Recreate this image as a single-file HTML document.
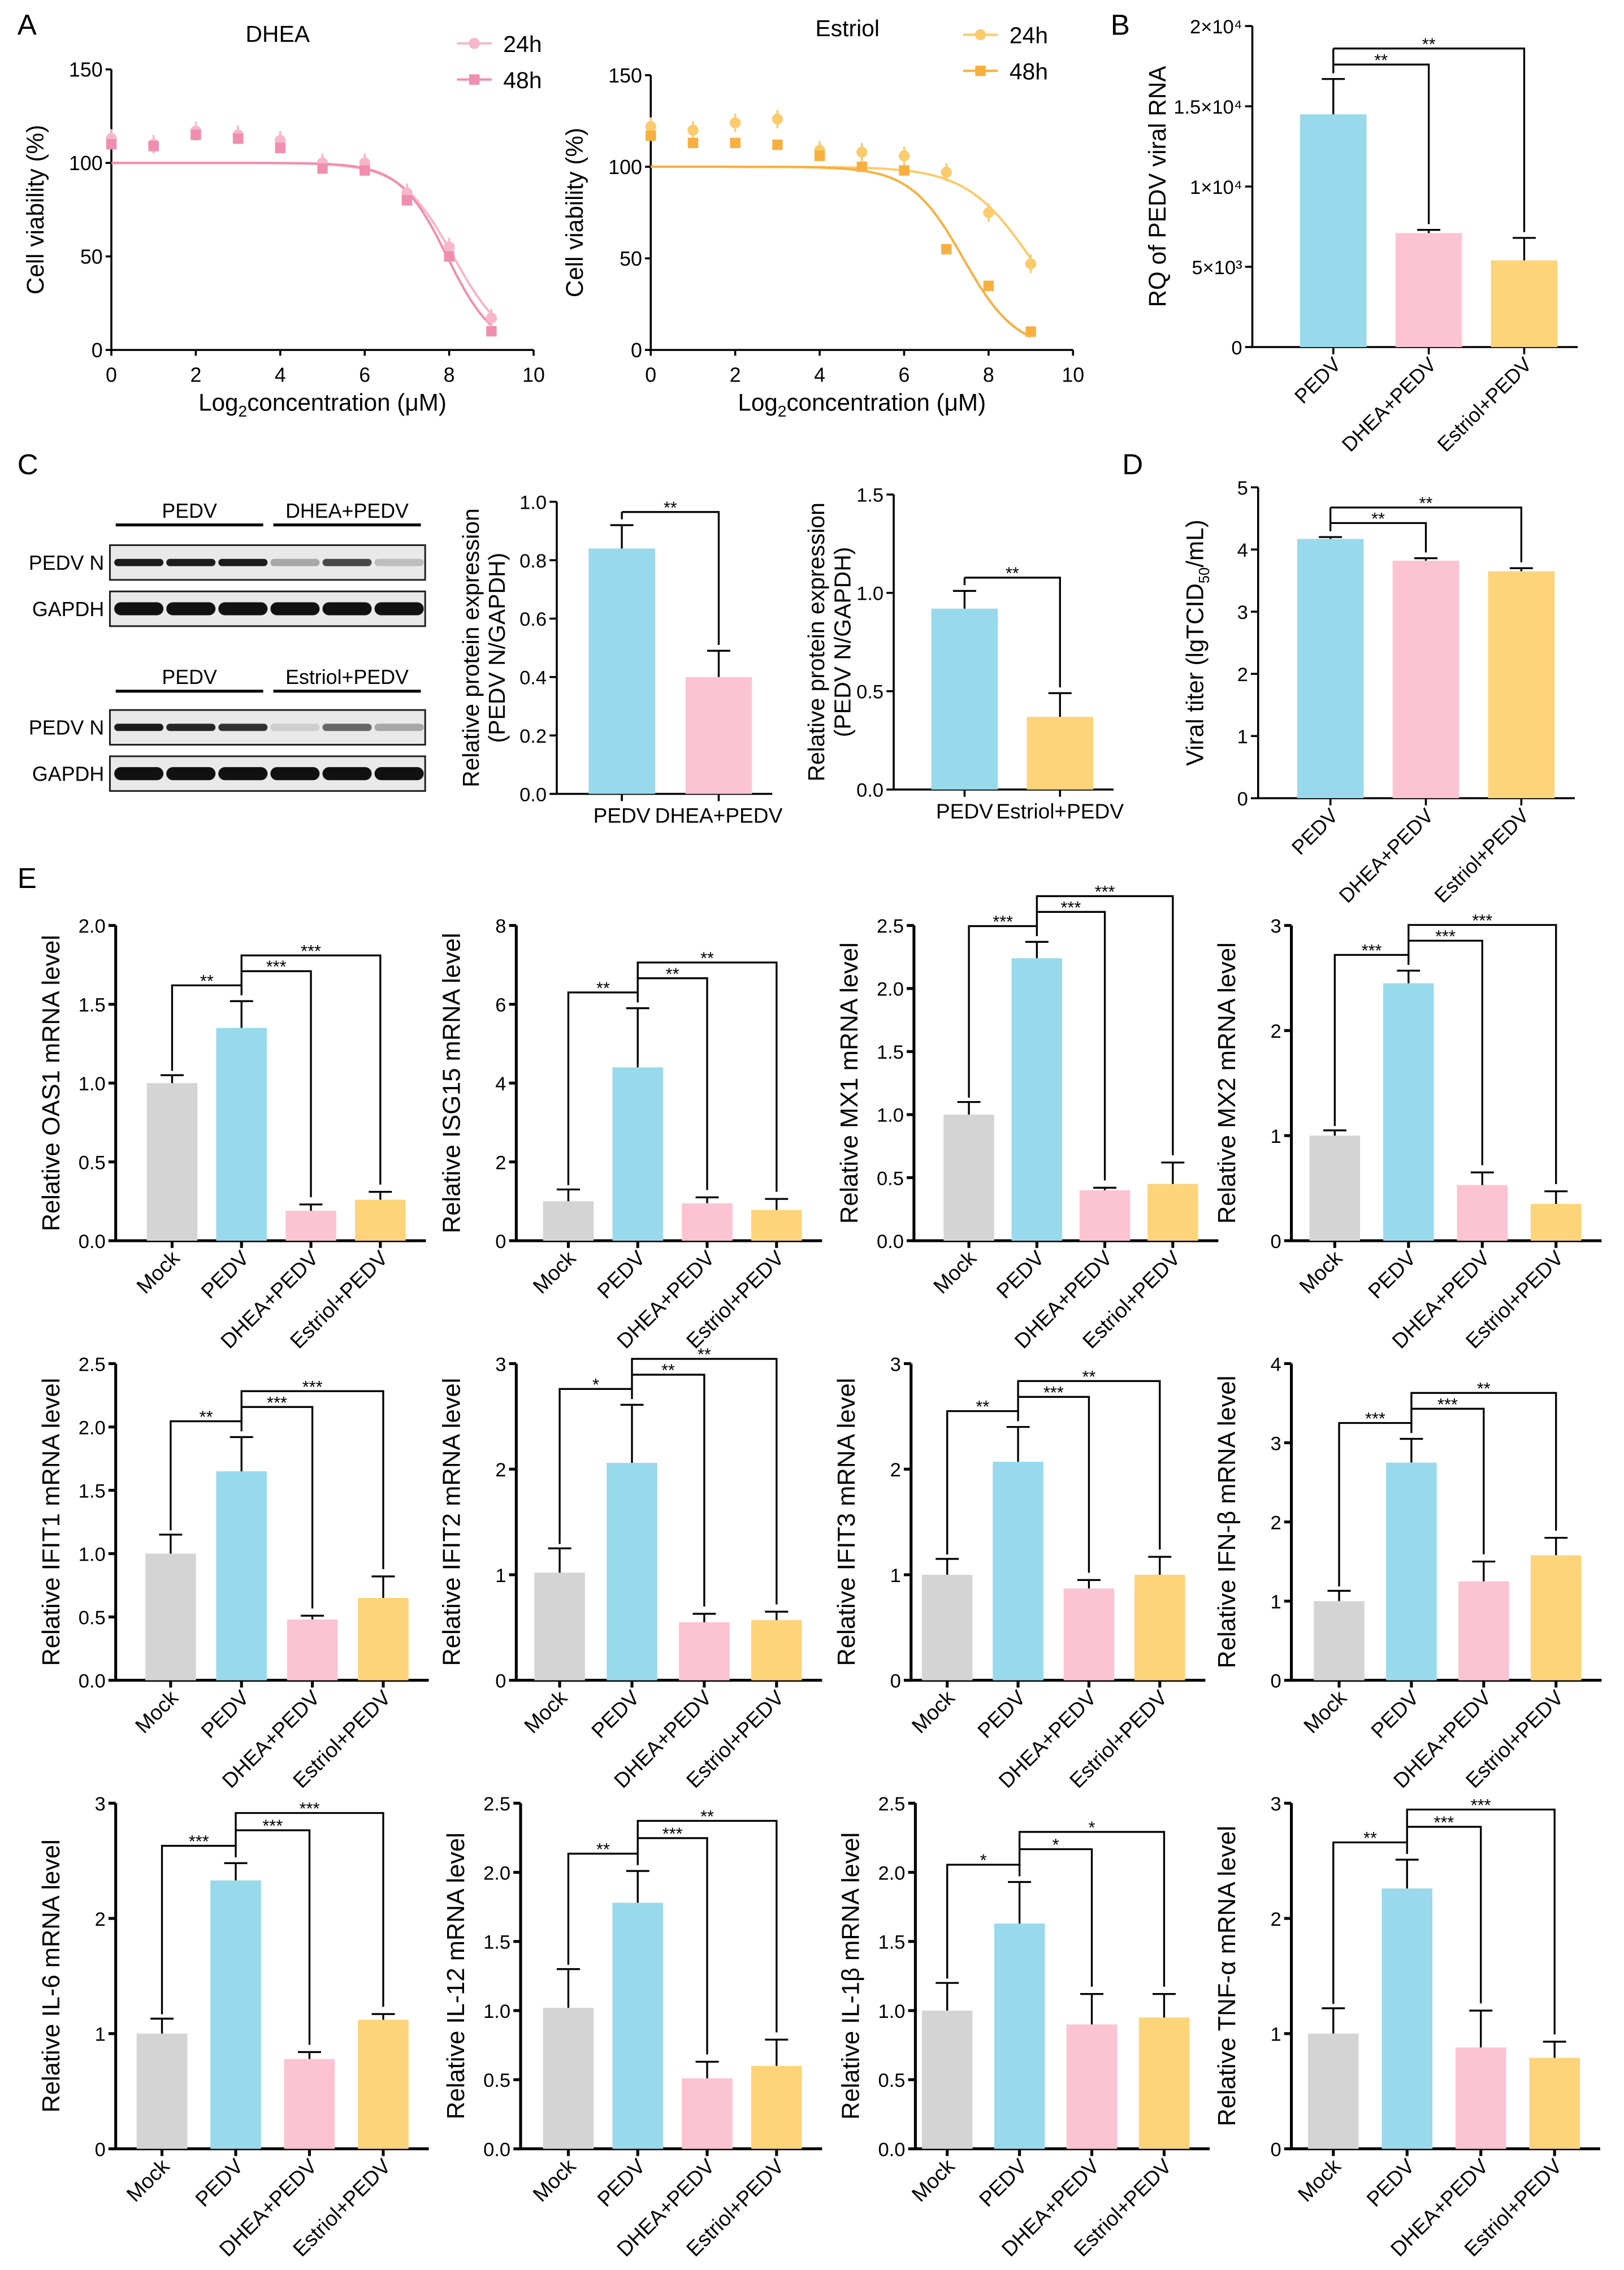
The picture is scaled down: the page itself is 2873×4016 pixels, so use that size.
<!DOCTYPE html>
<html><head><meta charset="utf-8"><style>
html,body{margin:0;padding:0;background:#fff}
svg{display:block;font-family:"Liberation Sans",Arial,sans-serif}
</style></head><body>
<svg id="fig" xmlns="http://www.w3.org/2000/svg" width="2873" height="4016" viewBox="0 0 1123 1569.8"></svg>
<script>
// ---------- DATA ----------
const concX = [0,1,2,3,4,5,6,7,8,9];
const dhea24 = [113,110,117,115,112,100,100,84,55,17];
const dhea48 = [110,109,115,113,108,97,96,80,50,10];
const estriol24 = [122,120,124,126,109,108,106,97,75,47];
const estriol48 = [117,113,113,112,106,100,98,55,35,10];
const fitCenters = [8.1,7.95,9.0,7.4];
const fitSlopes = [1.6,1.8,1.3,1.6];

const bCategories = ["PEDV","DHEA+PEDV","Estriol+PEDV"];
const bValues = [14500,7100,5400];
const bErrors = [2200,200,1400];
const bTickLabels = ["0","5×10³","1×10⁴","1.5×10⁴","2×10⁴"];

const c1Categories = ["PEDV","DHEA+PEDV"];
const c1Values = [0.84,0.40];
const c1Errors = [0.08,0.09];
const c2Categories = ["PEDV","Estriol+PEDV"];
const c2Values = [0.92,0.37];
const c2Errors = [0.09,0.12];

const dValues = [4.17,3.82,3.65];
const dErrors = [0.03,0.04,0.05];

const eCategories = ["Mock","PEDV","DHEA+PEDV","Estriol+PEDV"];
const eGenes = ["OAS1","ISG15","MX1","MX2","IFIT1","IFIT2","IFIT3","IFN-β","IL-6","IL-12","IL-1β","TNF-α"];
const oas1Values=[1.0,1.35,0.19,0.26], oas1Errors=[0.05,0.17,0.04,0.05], oas1Sig=["**","***","***"];
const isg15Values=[1.0,4.4,0.95,0.78], isg15Errors=[0.3,1.5,0.15,0.28], isg15Sig=["**","**","**"];
const mx1Values=[1.0,2.24,0.4,0.45], mx1Errors=[0.1,0.13,0.02,0.17], mx1Sig=["***","***","***"];
const mx2Values=[1.0,2.45,0.53,0.35], mx2Errors=[0.05,0.12,0.12,0.12], mx2Sig=["***","***","***"];
const ifit1Values=[1.0,1.65,0.48,0.65], ifit1Errors=[0.15,0.27,0.03,0.17], ifit1Sig=["**","***","***"];
const ifit2Values=[1.02,2.06,0.55,0.57], ifit2Errors=[0.23,0.55,0.08,0.08], ifit2Sig=["*","**","**"];
const ifit3Values=[1.0,2.07,0.87,1.0], ifit3Errors=[0.15,0.33,0.08,0.17], ifit3Sig=["**","***","**"];
const ifnbValues=[1.0,2.75,1.25,1.58], ifnbErrors=[0.13,0.3,0.25,0.22], ifnbSig=["***","***","**"];
const il6Values=[1.0,2.33,0.78,1.12], il6Errors=[0.13,0.15,0.06,0.05], il6Sig=["***","***","***"];
const il12Values=[1.02,1.78,0.51,0.6], il12Errors=[0.28,0.23,0.12,0.19], il12Sig=["**","***","**"];
const il1bValues=[1.0,1.63,0.9,0.95], il1bErrors=[0.2,0.3,0.22,0.17], il1bSig=["*","*","*"];
const tnfValues=[1.0,2.26,0.88,0.79], tnfErrors=[0.22,0.25,0.32,0.14], tnfSig=["**","***","***"];
const eMax = [2.0,8,2.5,3, 2.5,3,3,4, 3,2.5,2.5,3];
const eStep = [0.5,2,0.5,1, 0.5,1,1,1, 1,0.5,0.5,1];

// ---------- HELPERS ----------
const NS="http://www.w3.org/2000/svg";
const fig=document.getElementById('fig');
function mk(tag,attrs,parent){const el=document.createElementNS(NS,tag);for(const k in attrs)el.setAttribute(k,attrs[k]);(parent||fig).appendChild(el);return el;}
function txt(s,x,y,size,anchor,parent,extra){const t=mk('text',Object.assign({x:x,y:y,'font-size':size,'text-anchor':anchor||'start',fill:'#000'},extra||{}),parent);t.textContent=s;return t;}
const COL={Mock:'#d4d4d4',PEDV:'#99d9ec','DHEA+PEDV':'#fcc3d2','Estriol+PEDV':'#fdd47a'};

// panel letters
[["A",12,24],["B",768,24],["C",12,328],["D",776,328],["E",12,614]].forEach(p=>{
  const t=txt(p[0],p[1],p[2],20,'start');
  
  
});

// ---------- PANEL A ----------
function doseChart(name,axX,y0,yTop,title,tx,ty,s24,s48,c24,c48,fit24,fit48,legX,legY){
  const g=mk('g',{});
  
  
  const xW=292;
  const sx=v=>axX+v/10*xW, sy=v=>y0-v/150*(y0-yTop);
  const ax=mk('path',{d:`M${axX},${yTop} V${y0} H${axX+xW}`,stroke:'#000','stroke-width':1.4,fill:'none'},g);
  
  
  [0,50,100,150].forEach(v=>{
    const tk=mk('line',{x1:axX-4,x2:axX,y1:sy(v),y2:sy(v),stroke:'#000','stroke-width':1.4},g);
    
    
    const l=txt(String(v),axX-6,sy(v)+5,14,'end',g);
    
    
  });
  [0,2,4,6,8,10].forEach(v=>{
    const tk=mk('line',{x1:sx(v),x2:sx(v),y1:y0,y2:y0+4,stroke:'#000','stroke-width':1.4},g);
    
    
    const l=txt(String(v),sx(v),y0+22,14,'middle',g);
    
    
  });
  const xt=txt('',axX+xW/2,y0+42,16.5,'middle',g);
  xt.innerHTML='Log<tspan font-size="11" dy="4">2</tspan><tspan dy="-4">concentration (μM)</tspan>';
  
  
  const yt=txt('Cell viability (%)',0,0,16.5,'middle',g,{transform:`translate(${axX-47},${(y0+yTop)/2}) rotate(-90)`});
  
  
  const tt=txt(title,tx,ty,16,'middle',g);
  
  
  [[fit24,c24],[fit48,c48]].forEach(([f,c],k)=>{
    let d='';for(let i=0;i<=200;i++){const x=i/200*9;const y=100/(1+Math.exp(f[1]*(x-f[0])));d+=(i?'L':'M')+sx(x).toFixed(1)+','+sy(y).toFixed(1);}
    const p=mk('path',{d:d,stroke:c,'stroke-width':1.6,fill:'none'},g);
    
    
  });
  concX.forEach((x,i)=>{
    const e1=mk('line',{x1:sx(x),x2:sx(x),y1:sy(s24[i]-5),y2:sy(s24[i]+5),stroke:c24,'stroke-width':1.4},g);
    
    
    const p=mk('circle',{cx:sx(x),cy:sy(s24[i]),r:3.8,fill:c24},g);
    
    
    const q=mk('rect',{x:sx(x)-3.6,y:sy(s48[i])-3.6,width:7.2,height:7.2,fill:c48},g);
    
    
  });
  [["24h",c24,'c'],["48h",c48,'s']].forEach((L,k)=>{
    const yy=legY+k*25;
    const ln=mk('line',{x1:legX,x2:legX+24,y1:yy,y2:yy,stroke:L[1],'stroke-width':1.6},g);
    
    
    const m=L[2]=='c'?mk('circle',{cx:legX+12,cy:yy,r:3.8,fill:L[1]},g):mk('rect',{x:legX+8.4,y:yy-3.6,width:7.2,height:7.2,fill:L[1]},g);
    
    
    const t=txt(L[0],legX+32,yy+6,16,'start',g);
    
    
  });
}
doseChart('dhea-viability-chart',77,242,48,'DHEA',192,29,dhea24,dhea48,'#f7b6ca','#f08eb0',[fitCenters[0],fitSlopes[0]],[fitCenters[1],fitSlopes[1]],316,30);
doseChart('estriol-viability-chart',450,242,52,'Estriol',586,25,estriol24,estriol48,'#fbcb6c','#f7b040',[fitCenters[2],fitSlopes[2]],[fitCenters[3],fitSlopes[3]],666,24);

// ---------- generic bar chart ----------
function barChart(o){
  const g=mk('g',{});
  
  
  const sy=v=>o.y0-v/o.max*(o.y0-o.yTop);
  const n=o.vals.length;
  const cx=i=>o.first+i*o.sp;
  const right=o.right||cx(n-1)+o.bw/2+14;
  const ax=mk('path',{d:`M${o.axX},${o.yTop} V${o.y0} H${right}`,stroke:'#000','stroke-width':o.sw||2,fill:'none'},g);
  
  
  o.ticks.forEach((v,i)=>{
    const tk=mk('line',{x1:o.axX-5,x2:o.axX,y1:sy(v),y2:sy(v),stroke:'#000','stroke-width':o.sw||2},g);
    
    
    const l=txt(o.tickLabels[i],o.axX-7,sy(v)+5,o.tfs||13,'end',g);
    
    
  });
  o.vals.forEach((v,i)=>{
    const x=cx(i),c=COL[o.cats[i]];
    const b=mk('rect',{x:x-o.bw/2,y:sy(v),width:o.bw,height:o.y0-sy(v),fill:c},g);
    
    
    const top=sy(v+o.errs[i]);
    const e=mk('path',{d:`M${x},${sy(v)} V${top} M${x-8},${top} H${x+8}`,stroke:'#000','stroke-width':1.3,fill:'none'},g);
    
    
    const tk=mk('line',{x1:x,x2:x,y1:o.y0,y2:o.y0+5,stroke:'#000','stroke-width':o.sw||2},g);
    
    
    let l;
    if(o.rot){l=txt(o.cats[i],0,0,o.xfs||14,'end',g,{transform:`translate(${x+6},${o.y0+13}) rotate(-45)`});}
    else{l=txt(o.cats[i],x,o.y0+20,14.5,'middle',g);}
    
    
  });
  const yt=txt('',0,0,o.yfs||15,'middle',g,{transform:`translate(${o.ylx},${(o.y0+o.yTop)/2}) rotate(-90)`});
  if(o.ylabelHTML)yt.innerHTML=o.ylabelHTML;else yt.textContent=o.ylabel;
  
  
  if(o.ylabel2){const y2=txt(o.ylabel2,0,0,o.yfs||15,'middle',g,{transform:`translate(${o.ylx+18},${(o.y0+o.yTop)/2}) rotate(-90)`});
    
    }
  if(o.sig){
    const H=o.y0-o.yTop, gap=0.045*H, step=0.05*H;
    const pTop=sy(o.vals[o.ref]+o.errs[o.ref]);
    const levels=[];
    let L=pTop-gap;
    o.sig.forEach((s,k)=>{levels.push(L);L-=step;});
    o.sig.forEach((s,k)=>{
      const j=o.pairs[k], yL=levels[k];
      const tgtTop=sy(o.vals[j]+o.errs[j])-4;
      const d=`M${cx(o.ref)},${yL} H${cx(j)} V${tgtTop}`;
      const br=mk('path',{d:d,stroke:'#000','stroke-width':1.3,fill:'none'},g);
      
      
      const st=txt(s,(cx(o.ref)+cx(j))/2,yL+1,12,'middle',g);
      
      
    });
    const vtop=levels[levels.length-1];
    const v=mk('line',{x1:cx(o.ref),x2:cx(o.ref),y1:vtop,y2:Math.max(levels[0],pTop-4),stroke:'#000','stroke-width':1.3},g);
    
    
  }
  return g;
}
function fmt(v,step){return step<1?v.toFixed(1):String(v);}
function ticksFor(max,step){const a=[];for(let v=0;v<=max+1e-9;v+=step)a.push(+v.toFixed(3));return a;}

// ---------- PANEL B ----------
barChart({name:'rq-viral-rna-chart',axX:866,y0:240,yTop:18,max:20000,ticks:[0,5000,10000,15000,20000],tickLabels:bTickLabels,
  vals:bValues,errs:bErrors,cats:bCategories,first:922,sp:66,bw:46,rot:true,xfs:14,ylx:806,ylabel:'RQ of PEDV viral RNA',yfs:16.5,tfs:13.5,sw:1.4,
  sig:["**","**"],ref:0,pairs:[1,2]});

// ---------- PANEL C blots ----------
(function(){
  const g=mk('g',{});
  
  
  function header(y,l1,l2){
    const a=mk('line',{x1:80,x2:182,y1:y,y2:y,stroke:'#000','stroke-width':2},g);
    
    
    const b=mk('line',{x1:189,x2:291,y1:y,y2:y,stroke:'#000','stroke-width':2},g);
    
    
    const t1=txt(l1,131,y-5,14,'middle',g);
    
    
    const t2=txt(l2,240,y-5,14,'middle',g);
    
    
  }
  function strip(y,h,label,int,thick){
    const r=mk('rect',{x:76,y:y,width:218,height:h,fill:'#e9e9e9',stroke:'#222','stroke-width':1.2},g);
    
    
    int.forEach((a,i)=>{
      const e=mk('rect',{x:79+i*36,y:y+h/2-thick/2,width:34,height:thick,rx:thick/2,fill:'#111','fill-opacity':a},g);
      
      
    });
    const t=txt(label,72,y+h/2+5,14,'end',g);
    
    
  }
  header(363,'PEDV','DHEA+PEDV');
  strip(377,24,'PEDV N',[0.95,0.95,0.95,0.3,0.75,0.2],5);
  strip(409,24,'GAPDH',[1,1,1,1,1,1],9);
  header(478,'PEDV','Estriol+PEDV');
  strip(491,24,'PEDV N',[0.95,0.9,0.85,0.12,0.6,0.3],5);
  strip(523,24,'GAPDH',[1,1,1,1,1,1],9);
})();

barChart({name:'dhea-protein-chart',axX:385,y0:549,yTop:347,max:1.0,ticks:[0,0.2,0.4,0.6,0.8,1.0],tickLabels:["0.0","0.2","0.4","0.6","0.8","1.0"],
  vals:c1Values,errs:c1Errors,cats:c1Categories,first:430,sp:67,bw:46,rot:false,ylx:331,ylabel:'Relative protein expression',ylabel2:'(PEDV N/GAPDH)',yfs:16,tfs:13.5,sw:1.4,
  sig:["**"],ref:0,pairs:[1]});
barChart({name:'estriol-protein-chart',axX:618,y0:546,yTop:342,max:1.5,ticks:[0,0.5,1.0,1.5],tickLabels:["0.0","0.5","1.0","1.5"],
  vals:c2Values,errs:c2Errors,cats:c2Categories,first:667,sp:66,bw:46,rot:false,ylx:570,ylabel:'Relative protein expression',ylabel2:'(PEDV N/GAPDH)',yfs:16,tfs:13.5,sw:1.4,
  sig:["**"],ref:0,pairs:[1]});

// ---------- PANEL D ----------
barChart({name:'viral-titer-chart',axX:870,y0:552,yTop:337,max:5,ticks:[0,1,2,3,4,5],tickLabels:["0","1","2","3","4","5"],
  vals:dValues,errs:dErrors,cats:bCategories,first:920,sp:66,bw:46,rot:true,xfs:14,ylx:832,
  ylabelHTML:'Viral titer (lgTCID<tspan font-size="10" dy="4">50</tspan><tspan dy="-4">/mL)</tspan>',yfs:16.5,tfs:13.5,sw:1.4,
  sig:["**","**"],ref:0,pairs:[1,2]});

// ---------- PANEL E ----------
const eVals=[oas1Values,isg15Values,mx1Values,mx2Values,ifit1Values,ifit2Values,ifit3Values,ifnbValues,il6Values,il12Values,il1bValues,tnfValues];
const eErrs=[oas1Errors,isg15Errors,mx1Errors,mx2Errors,ifit1Errors,ifit2Errors,ifit3Errors,ifnbErrors,il6Errors,il12Errors,il1bErrors,tnfErrors];
const eSigs=[oas1Sig,isg15Sig,mx1Sig,mx2Sig,ifit1Sig,ifit2Sig,ifit3Sig,ifnbSig,il6Sig,il12Sig,il1bSig,tnfSig];
const eLayout=[[80,119,48],[357,393,48],[632,670,47],[893,923,51],
               [80,118,49],[357,387,50],[630,655,49],[893,926,50],
               [80,112,51],[360,393,48],[633,655,50],[893,922,51]];
const rowY0=[858,1162,1486], rowTop=[640,943,1247];
eGenes.forEach((gname,k)=>{
  const r=Math.floor(k/4), L=eLayout[k];
  const tks=ticksFor(eMax[k],eStep[k]);
  const o={name:'chart-'+gname.toLowerCase(),axX:L[0],y0:rowY0[r],yTop:rowTop[r],max:eMax[k],ticks:tks,tickLabels:tks.map(v=>fmt(v,eStep[k])),
    vals:eVals[k],errs:eErrs[k],cats:eCategories,first:L[1],sp:L[2],bw:35,rot:true,xfs:14.5,ylx:L[0]-39,ylabel:'Relative '+gname+' mRNA level',yfs:17,tfs:13.5,sw:2};
  const g=barChart(o);
  const sy=v=>o.y0-v/o.max*(o.y0-o.yTop);
  const cx=i=>o.first+i*o.sp;
  const H=o.y0-o.yTop, step=0.05*H;
  const pTop=sy(o.vals[1]+o.errs[1]);
  const L1=pTop-0.05*H, L2=L1-step*0.9, L3=L2-step;
  const s=eSigs[k];
  const b1=mk('path',{d:`M${cx(0)},${sy(o.vals[0]+o.errs[0])-3} V${L1} H${cx(1)} V${pTop-4}`,stroke:'#000','stroke-width':1.3,fill:'none'},g);
  
  
  const b2=mk('path',{d:`M${cx(1)},${L1} V${L3} H${cx(3)} V${sy(o.vals[3]+o.errs[3])-5} M${cx(1)},${L2} H${cx(2)} V${sy(o.vals[2]+o.errs[2])-5}`,stroke:'#000','stroke-width':1.3,fill:'none'},g);
  
  
  [[s[0],(cx(0)+cx(1))/2,L1],[s[1],(cx(1)+cx(2))/2,L2],[s[2],(cx(1)+cx(3))/2,L3]].forEach(q=>{
    const t=txt(q[0],q[1],q[2]+1,12,'middle',g);
    
    
  });
});
</script>
</body></html>
